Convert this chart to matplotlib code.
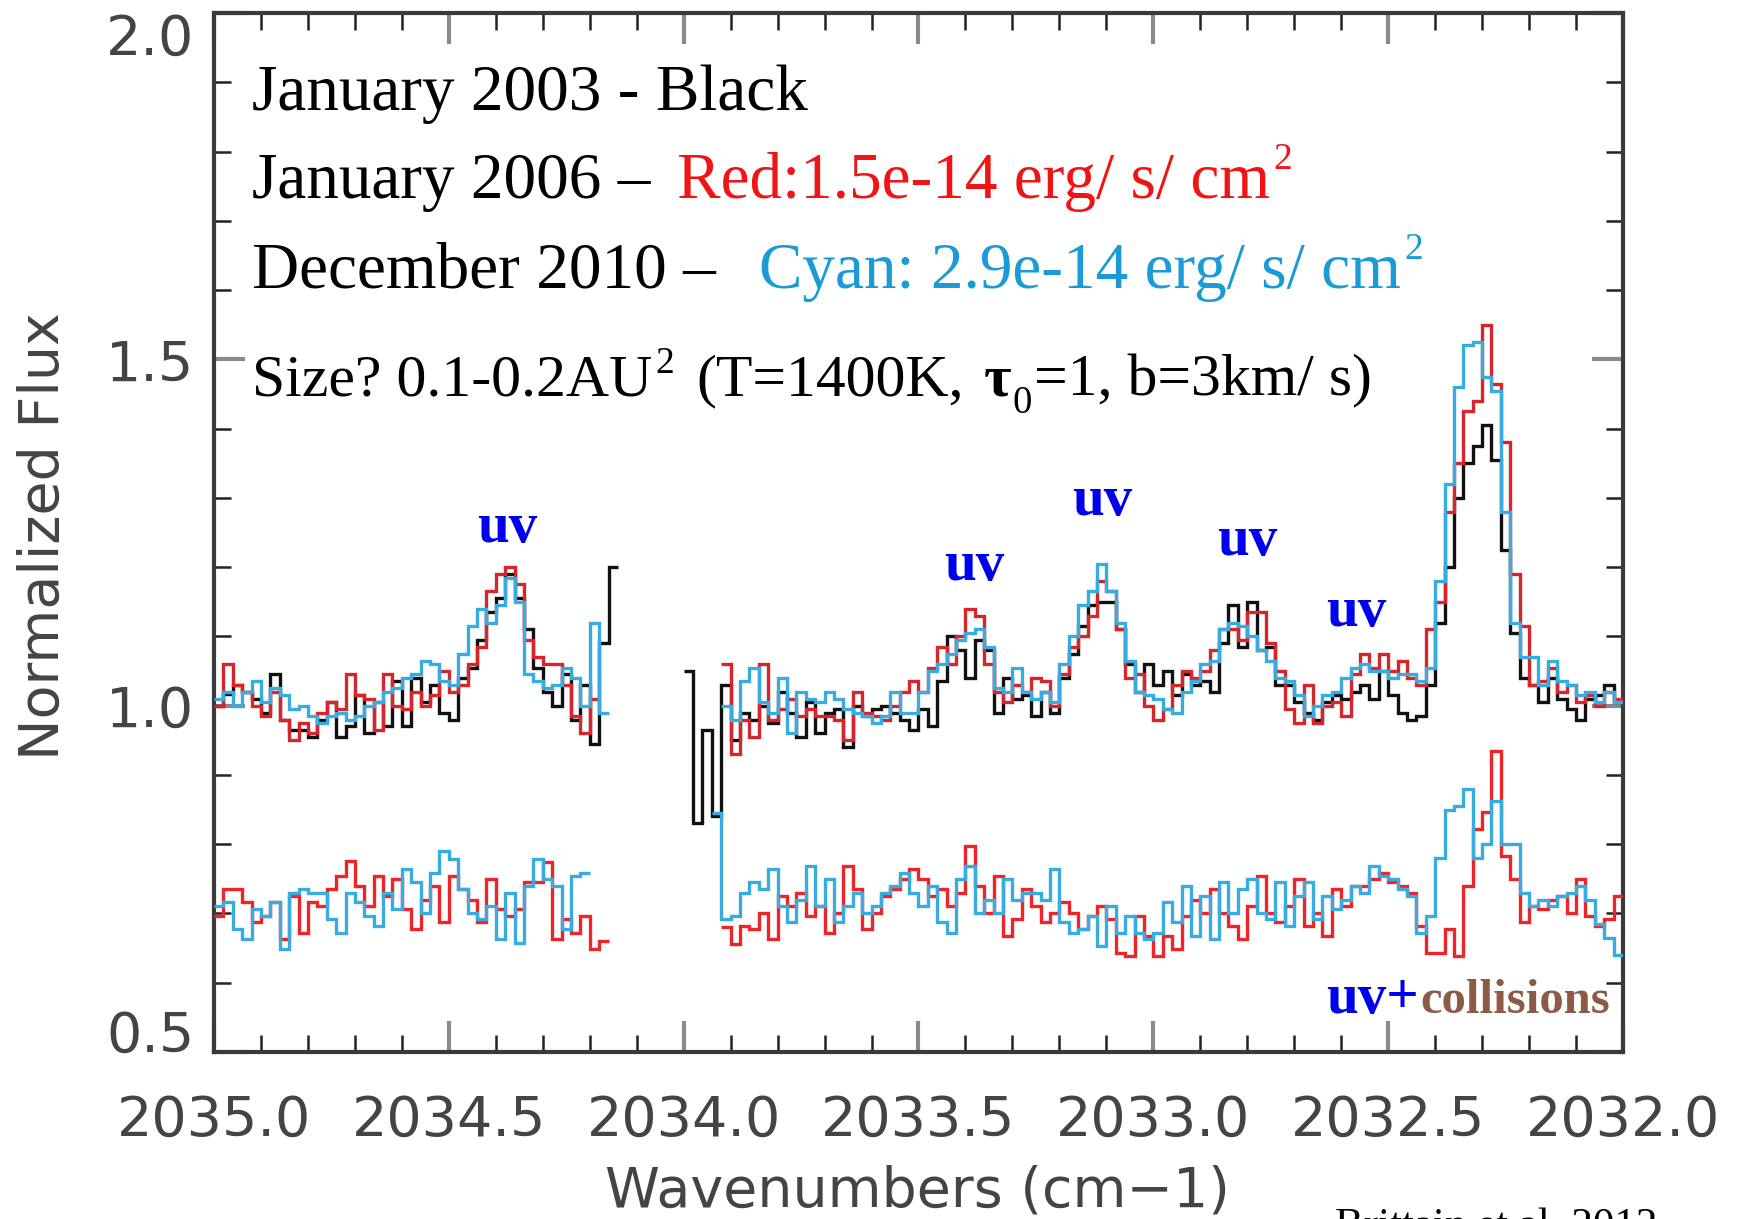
import numpy as np
import matplotlib
matplotlib.use("Agg")
import matplotlib.pyplot as plt
from matplotlib.ticker import MultipleLocator, FormatStrFormatter

# ---------------- data (normalized flux per spectral pixel) ----------------
BIN = 0.02  # cm^-1 per spectral pixel

black_a_start = 2035.00
black_a = [1.00, 1.017, 1.03, 1.02, 1.01, 0.99, 1.045, 0.98, 0.965, 0.965,
           0.955, 0.98, 1.005, 0.955, 0.97, 1.015, 0.96, 1.005, 0.97, 1.035,
           0.97, 1.04, 1.005, 1.03, 0.99, 0.98, 1.04, 1.055, 1.095, 1.135,
           1.155, 1.19, 1.155, 1.11, 1.055, 1.02, 1.0, 1.045, 0.98, 1.03,
           0.945, 1.09, 1.20]
red_a_start = 2035.00
red_a = [1.0, 1.06, 1.03, 1.02, 1.0, 0.985, 1.02, 0.98, 0.95, 0.975,
         0.96, 0.99, 1.005, 0.995, 1.045, 1.015, 1.01, 0.965, 1.045, 1.0,
         0.995, 1.02, 1.0, 1.015, 1.05, 1.02, 1.03, 1.06, 1.085, 1.165,
         1.19, 1.2, 1.175, 1.095, 1.07, 1.06, 1.06, 1.03, 0.985, 0.96,
         1.01]
cyan_a_start = 2035.00
cyan_a = [1.01, 1.02, 1.0, 1.02, 1.035, 1.005, 1.025, 1.015, 0.995, 1.0,
          0.985, 0.975, 0.985, 0.99, 0.98, 0.985, 1.0, 1.005, 1.02, 1.025,
          1.04, 1.045, 1.065, 1.06, 1.035, 1.03, 1.075, 1.115, 1.14, 1.12,
          1.145, 1.185, 1.15, 1.045, 1.035, 1.025, 1.03, 1.055, 1.04, 1.0,
          1.12, 0.99]

black_b_start = 2034.00
black_b = [1.05, 0.83, 0.965, 0.84, 1.03, 0.95, 0.99, 0.98, 1.0, 0.975,
           1.02, 0.99, 0.955, 1.005, 0.96, 0.99, 0.995, 0.94, 1.0, 0.985,
           0.995, 1.0, 0.99, 0.98, 0.965, 0.995, 0.97, 1.035, 1.10, 1.08,
           1.04, 1.095, 1.08, 0.99, 1.04, 1.01, 1.015, 0.985, 1.02, 0.99,
           1.04, 1.075, 1.115, 1.145, 1.15, 1.15, 1.11, 1.06, 1.02, 1.06,
           1.03, 1.05, 1.015, 1.045, 1.03, 1.035, 1.02, 1.09, 1.145, 1.085,
           1.15, 1.08, 1.085, 1.03, 1.03, 1.005, 0.99, 0.98, 1.005, 1.015,
           1.01, 1.02, 1.03, 1.01, 1.05, 1.015, 0.99, 0.98, 0.985, 1.03,
           1.12, 1.2, 1.3, 1.35, 1.375, 1.405, 1.355, 1.225, 1.105, 1.04,
           1.03, 1.005, 1.04, 1.01, 0.995, 0.98, 1.01, 1.015, 1.03, 1.005]
red_b_start = 2033.92
red_b = [1.06, 0.93, 0.98, 0.955, 1.06, 0.98, 0.995, 1.01, 0.985, 0.995,
         0.985, 0.985, 0.98, 0.95, 1.02, 0.99, 0.985, 0.98, 1.0, 1.02,
         1.035, 1.02, 1.055, 1.085, 1.06, 1.10, 1.14, 1.13, 1.06, 1.02,
         1.005, 1.03, 1.02, 1.04, 1.035, 1.0, 1.045, 1.085, 1.10, 1.13,
         1.18, 1.165, 1.11, 1.04, 1.045, 1.0,
         0.98, 0.995, 1.03, 1.05, 1.04, 1.05, 1.08, 1.11, 1.11, 1.095,
         1.135, 1.135, 1.09, 1.05, 0.995, 0.975, 1.03, 0.975, 1.0, 1.005,
         0.985, 1.045, 1.075, 1.055, 1.075, 1.05, 1.065, 1.04, 1.03, 1.11,
         1.15, 1.28, 1.35, 1.425, 1.44, 1.55, 1.465, 1.38, 1.19, 1.115,
         1.03, 1.035, 1.055, 1.02, 1.03, 1.005, 1.015, 1.0, 1.02, 1.01]
cyan_b_start = 2033.92
cyan_b = [1.0, 0.98, 1.035, 1.055, 1.005, 0.99, 1.04, 0.96, 1.02, 1.01,
          1.005, 1.02, 1.01, 0.995, 0.99, 0.985, 0.975, 0.985, 1.02, 0.99,
          0.99, 1.02, 1.05, 1.06, 1.075, 1.095, 1.105, 1.11, 1.085, 1.025,
          1.02, 1.055, 1.02, 1.01, 1.02, 1.005, 1.06, 1.10, 1.145, 1.165,
          1.205, 1.165, 1.12, 1.065, 1.02, 1.015,
          1.01, 0.995, 0.99, 1.02, 1.035, 1.06, 1.065, 1.11, 1.12, 1.115,
          1.1, 1.08, 1.065, 1.04, 1.035, 1.015, 0.985, 1.0, 1.015, 1.02,
          1.04, 1.055, 1.06, 1.05, 1.05, 1.04, 1.045, 1.045, 1.035, 1.055,
          1.18, 1.32, 1.46, 1.52, 1.525, 1.475, 1.455, 1.28, 1.12, 1.07,
          1.07, 1.03, 1.065, 1.035, 1.03, 1.015, 1.02, 1.005, 1.02, 1.005]

# residual (difference) spectra, offset to ~0.7
red_res_a_start = 2035.00
red_res_a = [0.697, 0.735, 0.735, 0.716, 0.687, 0.697, 0.716, 0.663, 0.725, 0.672,
             0.716, 0.711, 0.735, 0.754, 0.776, 0.74, 0.711, 0.754, 0.725, 0.75,
             0.706, 0.677, 0.72, 0.74, 0.687, 0.754, 0.735, 0.72, 0.687, 0.75,
             0.706, 0.697, 0.706, 0.745, 0.745, 0.774, 0.663, 0.692, 0.672, 0.697,
             0.648, 0.66]
cyan_res_a_start = 2035.00
cyan_res_a = [0.711, 0.716, 0.677, 0.663, 0.706, 0.697, 0.716, 0.648, 0.73, 0.735,
              0.73, 0.73, 0.692, 0.672, 0.73, 0.716, 0.697, 0.682, 0.73, 0.706,
              0.764, 0.745, 0.701, 0.759, 0.79, 0.778, 0.735, 0.701, 0.692, 0.711,
              0.663, 0.73, 0.658, 0.74, 0.778, 0.75, 0.74, 0.677, 0.754, 0.759]
red_res_b_start = 2033.92
red_res_b = [0.68, 0.656, 0.682, 0.677, 0.701, 0.663, 0.725, 0.711, 0.73, 0.697,
             0.711, 0.672, 0.701, 0.769, 0.735, 0.677, 0.701, 0.725, 0.735, 0.75,
             0.764, 0.75, 0.725, 0.735, 0.711, 0.73, 0.798, 0.74, 0.701, 0.754,
             0.667, 0.692, 0.735, 0.711, 0.687, 0.701, 0.716, 0.701, 0.677, 0.697,
             0.711, 0.692, 0.643, 0.638, 0.697, 0.667, 0.638, 0.667, 0.648, 0.697,
             0.72, 0.701, 0.735, 0.701, 0.682, 0.663, 0.711, 0.754, 0.701, 0.687,
             0.711, 0.75, 0.682, 0.701, 0.667, 0.735, 0.711, 0.74, 0.74, 0.75,
             0.759, 0.745, 0.74, 0.73, 0.682, 0.643, 0.643, 0.677, 0.638, 0.74,
             0.822, 0.846, 0.935, 0.783, 0.75, 0.687, 0.711, 0.706, 0.72, 0.725,
             0.701, 0.75, 0.697, 0.682, 0.692, 0.725]
cyan_res_b_start = 2033.94
cyan_res_b = [0.845,
              0.692, 0.697, 0.73, 0.745, 0.735, 0.764, 0.711, 0.687, 0.72, 0.769,
              0.711, 0.75, 0.687, 0.711, 0.73, 0.701, 0.711, 0.73, 0.74, 0.759,
              0.73, 0.711, 0.74, 0.687, 0.672, 0.75, 0.769, 0.701, 0.72, 0.701,
              0.75, 0.72, 0.73, 0.73, 0.72, 0.764, 0.687, 0.672, 0.677, 0.697,
              0.653, 0.711, 0.672, 0.697, 0.672, 0.663, 0.672, 0.716, 0.687, 0.74,
              0.667, 0.725, 0.663, 0.745, 0.701, 0.735, 0.75, 0.701, 0.692, 0.745,
              0.682, 0.725, 0.745, 0.692, 0.725, 0.706, 0.72, 0.74, 0.73, 0.769,
              0.754, 0.75, 0.735, 0.725, 0.672, 0.697, 0.78, 0.85, 0.855, 0.88,
              0.78, 0.80, 0.862, 0.80, 0.80, 0.73, 0.711, 0.72, 0.711, 0.725,
              0.73, 0.74, 0.72, 0.685, 0.665, 0.64]

x_ticks = [2035.0, 2034.5, 2034.0, 2033.5, 2033.0, 2032.5, 2032.0]
y_ticks = [0.5, 1.0, 1.5, 2.0]
uv_pos = [(2034.376, 1.236), (2033.382, 1.181), (2033.109, 1.275),
          (2032.801, 1.2175), (2032.569, 1.115)]
uv_coll_pos = (2032.633, 0.556)

# ---------------- style ----------------
W, H = 1737, 1219
SERIF = ["Liberation Serif", "DejaVu Serif"]
SANS = ["DejaVu Sans"]
C_BLACK = "#111111"
C_RED = "#d6262c"
C_RED_RES = "#ee2528"
C_CYAN = "#38ace0"
T_RED = "#f01414"
T_CYAN = "#1a9bd7"
T_BLUE = "#0000ee"
T_BROWN = "#8c5a45"
LW = 2.4

fig = plt.figure(figsize=(W / 100, H / 100), dpi=100)
ax = fig.add_axes([214 / W, 1 - 1052 / H, (1623 - 214) / W, (1052 - 13) / H])


def draw(start, vals, color, z):
    vals = np.asarray(vals, dtype=float)
    edges = start - BIN * np.arange(len(vals) + 1)
    ax.stairs(vals[::-1], edges[::-1], baseline=None, color=color, lw=LW, zorder=z)


draw(black_a_start, black_a, C_BLACK, 2)
draw(black_b_start, black_b, C_BLACK, 2)
draw(red_a_start, red_a, C_RED, 3)
draw(red_b_start, red_b, C_RED, 3)
draw(cyan_a_start, cyan_a, C_CYAN, 4)
draw(cyan_b_start, cyan_b, C_CYAN, 4)
draw(red_res_a_start, red_res_a, C_RED_RES, 3)
draw(red_res_b_start, red_res_b, C_RED_RES, 3)
draw(cyan_res_a_start, cyan_res_a, C_CYAN, 4)
draw(cyan_res_b_start, cyan_res_b, C_CYAN, 4)

ax.set_xlim(2035.0, 2032.0)
ax.set_ylim(0.5, 2.0)
ax.set_xticks(x_ticks)
ax.set_yticks(y_ticks)
ax.xaxis.set_minor_locator(MultipleLocator(0.1))
ax.yaxis.set_minor_locator(MultipleLocator(0.1))
ax.xaxis.set_major_formatter(FormatStrFormatter("%.1f"))
ax.yaxis.set_major_formatter(FormatStrFormatter("%.1f"))

for sp in ax.spines.values():
    sp.set_color("#3a3a3a")
    sp.set_linewidth(3)

ax.tick_params(which="both", direction="in", top=True, right=True)
ax.tick_params(which="major", length=22, width=3, color="#8a8a8a")
ax.tick_params(which="minor", length=12, width=1.8, color="#222222")
ax.tick_params(axis="x", which="major", pad=30, labelsize=40, labelcolor="#444444")
ax.tick_params(axis="y", which="major", pad=14, labelsize=40, labelcolor="#444444")
for lab in ax.get_xticklabels() + ax.get_yticklabels():
    lab.set_family(SANS)
yt = ax.yaxis.get_major_ticks()
yt[0].label1.set_verticalalignment("baseline")  # 0.5 kept inside the frame
yt[-1].label1.set_verticalalignment("top")      # 2.0 kept inside the frame

fig.text(917 / W, 1 - 1207 / H, "Wavenumbers (cm\u22121)", ha="center", va="baseline",
         fontsize=40, color="#444444", family=SANS)
fig.text(44 / W, 1 - 536 / H, "Normalized Flux", ha="center", va="center",
         rotation=90, fontsize=40, color="#444444", family=SANS)

# ---------------- annotation text ----------------
renderer = fig.canvas.get_renderer()


def px_text(x, y, s, **kw):
    kw.setdefault("family", SERIF)
    return fig.text(x / W, 1 - y / H, s, va="baseline", ha="left", **kw)


def x_end(t):
    return t.get_window_extent(renderer=renderer).x1


px_text(252, 110, "January 2003 - Black", fontsize=47, color="black")

px_text(252, 198, "January 2006 \u2013", fontsize=47, color="black")
t = px_text(677, 198, "Red:1.5e-14 erg/ s/ cm", fontsize=47, color=T_RED)
px_text(x_end(t) + 3, 198 - 29, "2", fontsize=27, color=T_RED)

px_text(252, 288, "December 2010 \u2013", fontsize=47, color="black")
t = px_text(759, 288, "Cyan: 2.9e-14 erg/ s/ cm", fontsize=47, color=T_CYAN)
px_text(x_end(t) + 3, 288 - 29, "2", fontsize=27, color=T_CYAN)

t = px_text(252, 395, "Size? 0.1-0.2AU", fontsize=43, color="black")
px_text(x_end(t) + 3, 395 - 22, "2", fontsize=27, color="black")
t = px_text(696, 395, "(T=1400K,", fontsize=43, color="black")
t = px_text(x_end(t) + 20, 395, "\u03c4", fontsize=43, color="black", fontweight="bold")
t = px_text(x_end(t) + 1, 395 + 18, "0", fontsize=28, color="black")
px_text(x_end(t) + 3, 395, "=1, b=3km/ s)", fontsize=43, color="black")

for (xw, yf) in uv_pos:
    ax.text(xw, yf, "uv", ha="center", va="baseline", fontsize=41,
            fontweight="bold", color=T_BLUE, family=SERIF, zorder=6)

t = ax.text(uv_coll_pos[0], uv_coll_pos[1], "uv+", ha="left", va="baseline",
            fontsize=41, fontweight="bold", color=T_BLUE, family=SERIF, zorder=6)
xe = x_end(t)
px_text(xe + 2, 1013, "collisions", fontsize=35, fontweight="bold", color=T_BROWN)

px_text(1335, 1237, "Brittain et al. 2012", fontsize=31, color="black")

fig.savefig("out.png", dpi=100)
